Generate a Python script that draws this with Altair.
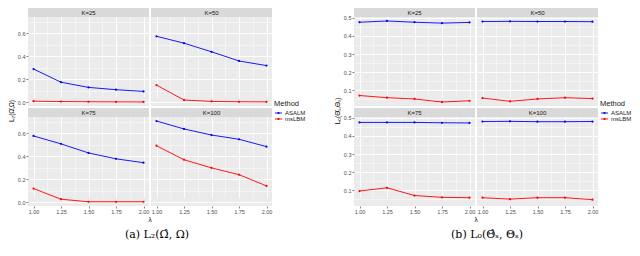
import altair as alt
import pandas as pd

# ---------------- data ----------------
lam = [1.00, 1.25, 1.50, 1.75, 2.00]
Ks = [25, 50, 75, 100]
methods = ["ASALM", "msLBM"]
colors = ["#0000FF", "#FF0000"]

# panel (a): L2 error
l2_asalm_k25 = [0.290, 0.175, 0.130, 0.110, 0.095]
l2_asalm_k50 = [0.575, 0.515, 0.440, 0.360, 0.320]
l2_asalm_k75 = [0.578, 0.509, 0.430, 0.379, 0.345]
l2_asalm_k100 = [0.708, 0.639, 0.586, 0.549, 0.485]
l2_mslbm_k25 = [0.010, 0.007, 0.005, 0.004, 0.003]
l2_mslbm_k50 = [0.150, 0.020, 0.008, 0.005, 0.004]
l2_mslbm_k75 = [0.120, 0.027, 0.005, 0.005, 0.005]
l2_mslbm_k100 = [0.493, 0.371, 0.300, 0.241, 0.143]

# panel (b): L0 error
l0_asalm_k25 = [0.476, 0.483, 0.476, 0.471, 0.475]
l0_asalm_k50 = [0.480, 0.481, 0.480, 0.480, 0.479]
l0_asalm_k75 = [0.475, 0.475, 0.475, 0.473, 0.472]
l0_asalm_k100 = [0.480, 0.481, 0.479, 0.479, 0.480]
l0_mslbm_k25 = [0.070, 0.058, 0.051, 0.034, 0.041]
l0_mslbm_k50 = [0.056, 0.038, 0.051, 0.058, 0.053]
l0_mslbm_k75 = [0.095, 0.113, 0.070, 0.060, 0.058]
l0_mslbm_k100 = [0.058, 0.050, 0.058, 0.058, 0.047]

x_ticks = [1.0, 1.125, 1.25, 1.375, 1.5, 1.625, 1.75, 1.875, 2.0]
l2_ticks = [0.0, 0.1, 0.2, 0.3, 0.4, 0.5, 0.6, 0.7]
l0_ticks = [0.05, 0.1, 0.15, 0.2, 0.25, 0.3, 0.35, 0.4, 0.45, 0.5]

l2_title = "L₂(Ω̂,Ω)"
l0_title = "L₀(Θ̂ₛ,Θₛ)"
caption_a = "(a) L₂(Ω̂, Ω)"
caption_b = "(b) L₀(Θ̂ₛ, Θₛ)"
xlab = "λ"


def build(asalm, mslbm):
    rows = []
    for k, a, m in zip(Ks, asalm, mslbm):
        for lv, v in zip(lam, a):
            rows.append({"K": k, "lam": lv, "value": v, "method": "ASALM"})
        for lv, v in zip(lam, m):
            rows.append({"K": k, "lam": lv, "value": v, "method": "msLBM"})
    return pd.DataFrame(rows)


df_l2 = build([l2_asalm_k25, l2_asalm_k50, l2_asalm_k75, l2_asalm_k100],
              [l2_mslbm_k25, l2_mslbm_k50, l2_mslbm_k75, l2_mslbm_k100])
df_l0 = build([l0_asalm_k25, l0_asalm_k50, l0_asalm_k75, l0_asalm_k100],
              [l0_mslbm_k25, l0_mslbm_k50, l0_mslbm_k75, l0_mslbm_k100])

# ---------------- layout ----------------
FONT = "Liberation Sans"
SERIF = "DejaVu Serif"
W = 121
STRIP = 9
H = 98
GRID_H = 2 * H + 2
LEG_W = 32
YT_W = 7

X_MINOR = "round(datum.value*1000) % 250 != 0"
L2_MINOR = "round(datum.value*10) % 2 == 1"
L0_MINOR = "round(datum.value*100) % 10 == 5"


def axis(values, minor, fmt, show):
    common = dict(
        values=values, grid=True, gridColor="white",
        gridWidth={"condition": {"test": minor, "value": 0.45}, "value": 0.9},
        domain=False, title=None,
    )
    if show:
        return alt.Axis(
            labels=True, ticks=True, tickSize=2, tickColor="#333333", tickWidth=0.6,
            tickOpacity={"condition": {"test": minor, "value": 0}, "value": 1},
            labelExpr=f"{minor} ? '' : format(datum.value, '{fmt}')",
            labelFontSize=5.5, labelColor="#4D4D4D", labelFont=FONT, labelPadding=1,
            **common)
    return alt.Axis(labels=False, ticks=False, **common)


def panel(df, K, ydom, yvals, yminor, show_y, show_x):
    base = alt.Chart(df[df.K == K])
    x = alt.X("lam:Q", scale=alt.Scale(domain=[0.95, 2.05], nice=False, zero=False),
              axis=axis(x_ticks, X_MINOR, ".2f", show_x))
    y = alt.Y("value:Q", scale=alt.Scale(domain=ydom, range=[H, STRIP], nice=False, zero=False),
              axis=axis(yvals, yminor, ".1f", show_y))
    color = alt.Color("method:N", scale=alt.Scale(domain=methods, range=colors), legend=None)
    lines = base.mark_line(strokeWidth=0.9).encode(x=x, y=y, color=color)
    pts = base.mark_circle(size=5, opacity=1).encode(x=x, y=y, color=color)
    sdf = pd.DataFrame({"lab": [f"K={K}"]})
    srect = alt.Chart(sdf).mark_rect(fill="#D9D9D9").encode(
        x=alt.value(0), x2=alt.value(W), y=alt.value(0), y2=alt.value(STRIP))
    stext = alt.Chart(sdf).mark_text(fontSize=6, font=FONT, color="#1A1A1A").encode(
        x=alt.value(W / 2), y=alt.value(STRIP / 2 + 0.5), text="lab:N")
    return alt.layer(lines, pts, srect, stext).properties(
        width=W, height=H, view=alt.ViewBackground(fill="#EBEBEB", strokeWidth=0))


def ytitle(txt):
    d = pd.DataFrame({"t": [txt]})
    return alt.Chart(d).mark_text(angle=270, fontSize=6.5, font=FONT, color="black").encode(
        x=alt.value(YT_W / 2), y=alt.value(GRID_H / 2 + 4), text="t:N"
    ).properties(width=YT_W, height=GRID_H)


def legend():
    d = pd.DataFrame({"method": methods})
    ysc = alt.Y("method:N", scale=alt.Scale(type="point", domain=methods, range=[105, 111], padding=0), axis=None)
    col = alt.Color("method:N", scale=alt.Scale(domain=methods, range=colors), legend=None)
    key = alt.Chart(d).mark_rule(strokeWidth=0.9).encode(x=alt.value(1), x2=alt.value(8), y=ysc, color=col)
    dot = alt.Chart(d).mark_circle(size=5, opacity=1).encode(x=alt.value(4.5), y=ysc, color=col)
    lab = alt.Chart(d).mark_text(align="left", fontSize=6, font=FONT, color="#1A1A1A").encode(
        x=alt.value(11), y=ysc, text="method:N")
    tdf = pd.DataFrame({"t": ["Method"]})
    ttl = alt.Chart(tdf).mark_text(align="left", fontSize=7.5, font=FONT, color="#1A1A1A").encode(
        x=alt.value(0), y=alt.value(96), text="t:N")
    return alt.layer(key, dot, lab, ttl).properties(
        width=LEG_W, height=GRID_H, view=alt.ViewBackground(fill="white", strokeWidth=0))


def block(df, ydom, yvals, yminor, title):
    cells = []
    for i, K in enumerate(Ks):
        cells.append(panel(df, K, ydom, yvals, yminor, show_y=(i % 2 == 0), show_x=(i >= 2)))
    grid = alt.concat(*cells, columns=2, spacing=2, align="each")
    return alt.hconcat(ytitle(title), grid, legend(), spacing=2)


left = block(df_l2, [-0.032, 0.743], l2_ticks, L2_MINOR, l2_title)
right = block(df_l0, [0.012, 0.505], l0_ticks, L0_MINOR, l0_title)

TOTAL_W = 624
BLOCK_W = 298
GAP = 28
left_center = 20 + W + 1
right_center = BLOCK_W + GAP + 20 + W + 1


def txt(s, xpos, ypos, size, font):
    d = pd.DataFrame({"t": [s]})
    return alt.Chart(d).mark_text(fontSize=size, font=font, color="black").encode(
        x=alt.value(xpos), y=alt.value(ypos), text="t:N")


bottom = alt.layer(
    txt(xlab, left_center, 5, 6.5, FONT),
    txt(xlab, right_center, 5, 6.5, FONT),
    txt(caption_a, BLOCK_W / 2, 20, 11, SERIF),
    txt(caption_b, BLOCK_W + GAP + BLOCK_W / 2 + 4, 20, 11, SERIF),
).properties(width=TOTAL_W, height=28, view=alt.ViewBackground(fill="white", strokeWidth=0))

chart = alt.vconcat(
    alt.hconcat(left, right, spacing=GAP),
    bottom,
    spacing=0,
).properties(padding=0, background="white").configure_view(strokeWidth=0)

chart.save("out.html", embed_options={"renderer": "svg", "actions": False})
